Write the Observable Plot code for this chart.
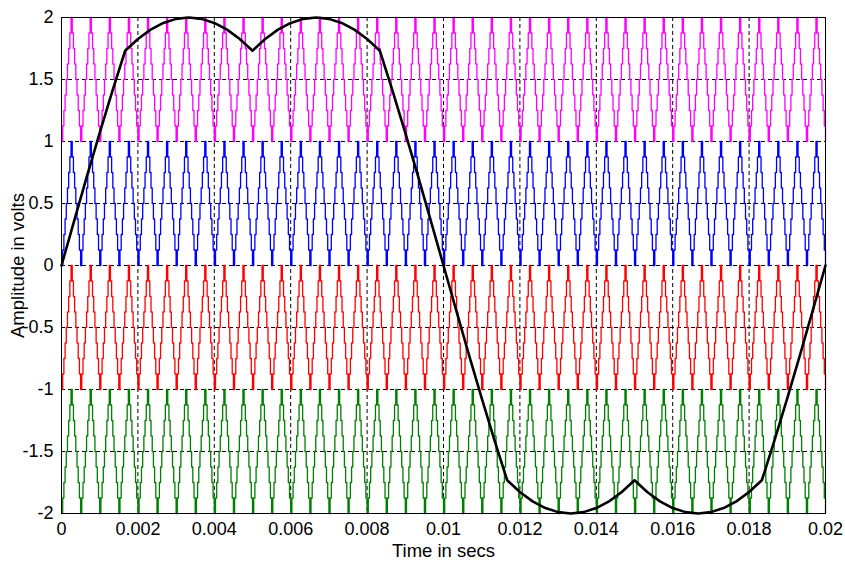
<!DOCTYPE html>
<html>
<head>
<meta charset="utf-8">
<script src="https://cdn.jsdelivr.net/npm/d3@7"></script>
<script src="https://cdn.jsdelivr.net/npm/@observablehq/plot@0.6"></script>
<style>
  html, body { margin: 0; padding: 0; background: #fff; }
  #chart svg { display: block; }
</style>
</head>
<body>
<div id="chart"></div>
<script>
// ---- data ----
const tEnd = 0.02;                 // seconds shown
const carrierPeriods = 40;          // triangular carrier cycles across the window
// one carrier period, sampled (stair levels, 0 = band bottom, 1 = band top)
const carrierLevels = [0, 0.125, 0.25, 0.375, 0.5, 0.625, 0.75, 0.875, 1,
                       0.875, 0.75, 0.625, 0.5, 0.375, 0.25, 0.125];
const bandNames   = ["carrier 1", "carrier 2", "carrier 3", "carrier 4"];
const bandBottoms = [1, 0, -1, -2];
const bandColors  = ["#ff00ff", "#0000ff", "#ff0000", "#008000"];

// modulating reference signal, one value every 1/60 of the window
const refValues = [
  0, 0.362, 0.720, 1.070, 1.409, 1.732, 1.827, 1.902, 1.956, 1.989, 2.0,
  1.989, 1.956, 1.902, 1.827, 1.732, 1.827, 1.902, 1.956, 1.989, 2.0,
  1.989, 1.956, 1.902, 1.827, 1.732, 1.409, 1.070, 0.720, 0.362, 0,
  -0.362, -0.720, -1.070, -1.409, -1.732, -1.827, -1.902, -1.956, -1.989, -2.0,
  -1.989, -1.956, -1.902, -1.827, -1.732, -1.827, -1.902, -1.956, -1.989, -2.0,
  -1.989, -1.956, -1.902, -1.827, -1.732, -1.409, -1.070, -0.720, -0.362, 0
];

const xTicks = [0, 0.002, 0.004, 0.006, 0.008, 0.01, 0.012, 0.014, 0.016, 0.018, 0.02];
const xTickLabels = ["0", "0.002", "0.004", "0.006", "0.008", "0.01", "0.012", "0.014", "0.016", "0.018", "0.02"];
const yTicks = [-2, -1.5, -1, -0.5, 0, 0.5, 1, 1.5, 2];
const yTickLabels = ["-2", "-1.5", "-1", "-0.5", "0", "0.5", "1", "1.5", "2"];
const xTitle = "Time in secs";
const yTitle = "Amplitude in volts";

// ---- build tables ----
const n = carrierLevels.length;
const dt = tEnd / (carrierPeriods * n);
const carriers = bandNames.map((name, b) => {
  const rows = [];
  for (let i = 0; i <= carrierPeriods * n; i++) {
    rows.push({t: i * dt, v: bandBottoms[b] + carrierLevels[i % n], band: name});
  }
  return rows;
});
const refData = refValues.map((v, i) => ({t: i * tEnd / (refValues.length - 1), v}));

const xFmt = d => xTickLabels[xTicks.indexOf(d)];
const yFmt = d => yTickLabels[yTicks.indexOf(d)];

const chart = Plot.plot({
  width: 845,
  height: 567,
  marginLeft: 61,
  marginRight: 20,
  marginTop: 17,
  marginBottom: 54,
  style: {fontFamily: "'Liberation Sans', Arial, sans-serif", fontSize: "19px", background: "#fff", color: "#000"},
  x: {domain: [0, tEnd]},
  y: {domain: [-2, 2]},
  marks: [
    Plot.gridX(xTicks, {stroke: "#000", strokeOpacity: 1, strokeDasharray: "4,3"}),
    Plot.gridY(yTicks, {stroke: "#000", strokeOpacity: 1, strokeDasharray: "4,3"}),
    ...carriers.map((rows, b) => Plot.line(rows, {x: "t", y: "v", curve: "step-after", stroke: bandColors[b], strokeWidth: 1.3})),
    Plot.line(refData, {x: "t", y: "v", stroke: "#000", strokeWidth: 2.6}),
    Plot.frame({stroke: "#000", strokeWidth: 1}),
    Plot.axisX(xTicks, {tickFormat: xFmt, tickSize: 0, tickPadding: 9, fontSize: 18, label: null}),
    Plot.axisY(yTicks, {tickFormat: yFmt, tickSize: 0, tickPadding: 8, fontSize: 18, label: null}),
    Plot.text([xTitle], {text: d => d, frameAnchor: "bottom", dy: 43, fontSize: 18.5, fill: "#000"}),
    Plot.text([yTitle], {text: d => d, frameAnchor: "left", textAnchor: "middle", dx: -43, rotate: -90, fontSize: 18.5, fill: "#000"})
  ]
});
document.getElementById("chart").appendChild(chart);
</script>
</body>
</html>
